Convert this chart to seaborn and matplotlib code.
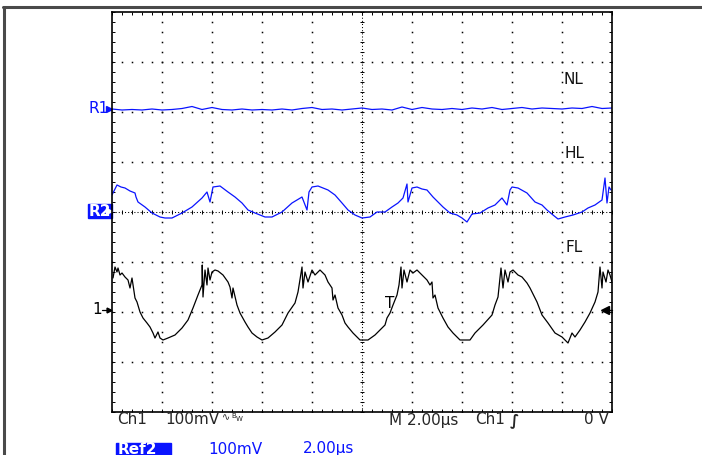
import numpy as np
import pandas as pd
import seaborn as sns
import matplotlib.pyplot as plt
from matplotlib.lines import Line2D
from matplotlib.patches import Rectangle
import matplotlib.transforms as mtransforms

# Scope settings: 2.00 us/div, 100 mV/div, 10 x 8 divisions
TIME_PER_DIV = 2.0
MV_PER_DIV = 100.0

# NL (Ref1) - flat trace
nl_t = [0.0, 0.4, 0.8, 1.2, 1.6, 2.0, 2.4, 2.8, 3.2, 3.6, 4.0, 4.4, 4.8, 5.2, 5.6,
        6.0, 6.4, 6.8, 7.2, 7.6, 8.0, 8.4, 8.8, 9.2, 9.6, 10.0, 10.4, 10.8, 11.2,
        11.6, 12.0, 12.4, 12.8, 13.2, 13.6, 14.0, 14.4, 14.8, 15.2, 15.6, 16.0,
        16.4, 16.8, 17.2, 17.6, 18.0, 18.4, 18.8, 19.2, 19.6, 20.0]
nl_v = [206, 204, 205, 204, 206, 204, 205, 207, 211, 205, 209, 205, 204, 206, 204,
        205, 204, 206, 204, 207, 209, 205, 206, 204, 206, 208, 205, 206, 204,
        210, 205, 209, 206, 205, 207, 205, 208, 206, 209, 205, 207,
        209, 206, 208, 207, 206, 208, 207, 211, 207, 208]

# HL (Ref2) - blue ripple
hl_t = [0.00, 0.20, 0.36, 0.52, 0.72, 0.92, 0.96, 1.04, 1.32, 1.60, 1.92, 2.12, 2.40,
        2.80, 3.20, 3.60, 3.80, 3.92, 4.04, 4.32, 4.64, 4.92, 5.20, 5.44, 5.72, 6.12,
        6.40, 6.80, 7.20, 7.60, 7.80, 7.88, 8.00, 8.24, 8.64, 8.92, 9.20, 9.44, 9.72,
        10.00, 10.32, 10.60, 10.92, 11.20, 11.44, 11.64, 11.80, 11.84, 12.00, 12.20,
        12.40, 12.60, 12.84, 13.04, 13.24, 13.52, 13.80, 14.00, 14.20, 14.40, 14.72,
        15.04, 15.32, 15.60, 15.80, 15.92, 16.00, 16.24, 16.60, 16.92, 17.20, 17.40,
        17.64, 17.84, 18.12, 18.44, 18.80, 19.04, 19.32, 19.60, 19.72, 19.80, 19.88, 19.96]
hl_v = [34, 54, 50, 48, 42, 38, 30, 20, 10, -2, -10, -12, -12,
        -2, 10, 28, 40, 20, 50, 52, 40, 30, 18, 4, -2, -10,
        -10, 0, 18, 30, 4, 40, 50, 52, 44, 34, 18, 4, -6,
        -12, -10, 0, 0, 10, 18, 28, 56, 20, 48, 50,
        46, 44, 30, 20, 10, -2, -6, -12, -20, -4, -2,
        8, 14, 28, 14, 44, 50, 48, 38, 20, 14, 4,
        -6, -14, -10, -6, 0, 8, 14, 24, 68, 18, 50, 44]

# FL (Ch1) - black ripple
fl_t = [0.04, 0.12, 0.20, 0.24, 0.32, 0.40, 0.52, 0.64, 0.72, 0.80, 0.92, 1.00, 1.12,
        1.24, 1.40, 1.52, 1.64, 1.72, 1.84, 1.92, 2.04, 2.24, 2.52, 2.80, 3.04, 3.24,
        3.44, 3.60, 3.61, 3.64, 3.72, 3.80, 3.84, 3.92, 4.00, 4.12, 4.24, 4.44, 4.64,
        4.72, 4.80, 4.84, 5.00, 5.12, 5.32, 5.44, 5.60, 5.80, 6.00, 6.24, 6.52, 6.80,
        7.04, 7.32, 7.44, 7.60, 7.64, 7.72, 7.84, 8.00, 8.12, 8.32, 8.52, 8.64, 8.80,
        8.84, 8.92, 9.04, 9.20, 9.32, 9.44, 9.64, 9.84, 9.92, 10.24, 10.52, 10.80,
        10.92, 11.00, 11.12, 11.24, 11.40, 11.48, 11.56, 11.60, 11.68, 11.80, 11.92,
        12.04, 12.20, 12.40, 12.60, 12.72, 12.80, 12.84, 12.92, 13.04, 13.24, 13.44,
        13.64, 13.92, 14.32, 14.52, 14.84, 15.20, 15.32, 15.44, 15.56, 15.64, 15.72,
        15.84, 15.92, 16.04, 16.24, 16.40, 16.60, 16.72, 17.00, 17.20, 17.44, 17.72,
        18.00, 18.24, 18.40, 18.52, 18.72, 18.92, 19.12, 19.32, 19.44, 19.52, 19.60,
        19.64, 19.76, 19.84, 19.92, 20.00]
fl_v = [-132, -110, -120, -112, -126, -122, -130, -136, -152, -132, -172, -180, -200,
        -212, -222, -230, -242, -252, -240, -252, -256, -252, -246, -232, -216, -192,
        -166, -146, -106, -170, -116, -146, -112, -136, -120, -116, -118, -126, -140,
        -150, -172, -152, -186, -202, -220, -230, -242, -250, -256, -252, -240, -226,
        -202, -182, -160, -110, -152, -120, -140, -116, -126, -116, -126, -140, -152,
        -176, -166, -192, -206, -222, -230, -242, -252, -256, -256, -246, -232,
        -226, -212, -202, -186, -166, -146, -110, -152, -116, -140, -116,
        -122, -116, -126, -136, -146, -140, -172, -166, -192, -212, -230,
        -242, -256, -256, -242, -226, -206, -186, -170, -112, -152, -116,
        -140, -120, -116, -126, -130, -142, -152, -180, -206, -222, -242,
        -250, -262, -242, -250, -236, -220, -202, -180, -160, -110, -152,
        -120, -140, -116, -126, -140]

# marker / label levels (mV on screen)
ref1_level = 207
ref2_level = 2
ch1_level = -196
trig_level = -196

BLUE = "#0a14ff"
W, H = 702, 455
FS = 11

sns.set_style("white")
plt.rcParams["font.family"] = ["DejaVu Sans"]

fig = plt.figure(figsize=(W / 100, H / 100), dpi=100)
ax = fig.add_axes([112 / W, 43 / H, 500 / W, 400 / H])
ax.set_xlim(0, 10 * TIME_PER_DIV)
ax.set_ylim(-4 * MV_PER_DIV, 4 * MV_PER_DIV)

# graticule: dotted division lines
minor_x = np.arange(0, 20.001, TIME_PER_DIV / 5)
minor_y = np.arange(-400, 400.001, MV_PER_DIV / 5)
for gx in np.arange(2, 19, 2):
    if gx == 10:
        continue
    ax.plot(np.full(len(minor_y), gx), minor_y, ls="none", marker="s", ms=1.1,
            mew=0, color="black")
for gy in np.arange(-300, 301, 100):
    if gy == 0:
        continue
    ax.plot(minor_x, np.full(len(minor_x), gy), ls="none", marker="s", ms=1.1,
            mew=0, color="black")
# centre cross-hair
ax.axhline(0, color="black", lw=0.75, ls=(0, (1, 2)))
ax.axvline(10, color="black", lw=0.75, ls=(0, (1, 2)))
ax.plot(minor_x, np.zeros(len(minor_x)), ls="none", marker="|", ms=3, mew=0.7, color="black")
ax.plot(np.full(len(minor_y), 10), minor_y, ls="none", marker="_", ms=3, mew=0.7, color="black")

# border ticks
ax.set_xticks(np.arange(0, 20.001, 2))
ax.set_xticks(minor_x, minor=True)
ax.set_yticks(np.arange(-400, 401, 100))
ax.set_yticks(minor_y, minor=True)
ax.tick_params(which="both", direction="in", length=2.5, width=0.7, top=True, right=True,
               bottom=True, left=True, labelbottom=False, labelleft=False, color="black")
for sp in ax.spines.values():
    sp.set_color("black")
    sp.set_linewidth(1.2)

# traces
sns.lineplot(x=nl_t, y=nl_v, ax=ax, color=BLUE, lw=0.9, estimator=None, sort=False)
sns.lineplot(x=hl_t, y=hl_v, ax=ax, color=BLUE, lw=0.9, estimator=None, sort=False)
sns.lineplot(x=fl_t, y=fl_v, ax=ax, color="black", lw=0.9, estimator=None, sort=False)

# trace labels
ax.text(18.44, 264, "NL", fontsize=FS, ha="center", va="center", color="#111111")
ax.text(18.48, 118, "HL", fontsize=FS, ha="center", va="center", color="#111111")
ax.text(18.48, -70, "FL", fontsize=FS, ha="center", va="center", color="#111111")

# trigger position marker T
ax.text(11.1, -182, "T", fontsize=FS, ha="center", va="center", color="black")

# left markers (x in axes fraction, y in data)
blend = mtransforms.blended_transform_factory(ax.transAxes, ax.transData)
ax.text(-0.046, ref1_level, "R1", transform=blend, fontsize=FS, color=BLUE,
        ha="left", va="center")
ax.plot([-0.007], [ref1_level], marker=">", ms=4, color=BLUE, transform=blend, clip_on=False)
ax.add_patch(Rectangle((-0.048, ref2_level - 14), 0.048, 28, transform=blend,
                       color=BLUE, clip_on=False))
ax.text(-0.046, ref2_level, "R2", transform=blend, fontsize=FS, color="white",
        ha="left", va="center", fontweight="bold")
ax.plot([-0.007], [ref2_level], marker=">", ms=4, color="white", transform=blend, clip_on=False)
ax.text(-0.04, ch1_level, "1", transform=blend, fontsize=FS, color="black",
        ha="left", va="center")
ax.plot([-0.02, -0.004], [ch1_level, ch1_level], color="black", lw=0.9,
        transform=blend, clip_on=False)
ax.plot([-0.006], [ch1_level], marker=">", ms=3.5, color="black", transform=blend, clip_on=False)

# trigger level arrow on the right
ax.plot([19.72, 20.0], [trig_level, trig_level], color="black", lw=1.0, clip_on=False)
ax.plot([19.72], [trig_level], marker="<", ms=6, color="black", clip_on=False)

# status lines under the graticule
def px(x, y):
    return x / W, 1 - y / H

fig.text(*px(117, 420), "Ch1", fontsize=FS, va="center", ha="left")
fig.text(*px(165, 420), "100mV", fontsize=FS, va="center", ha="left")
fig.text(*px(222, 417), "\u223f", fontsize=7, va="center", ha="left")
fig.text(*px(231, 416), "B", fontsize=5, va="center", ha="left")
fig.text(*px(236, 419), "W", fontsize=5, va="center", ha="left")
fig.text(*px(389, 420), "M 2.00\u00b5s", fontsize=FS, va="center", ha="left")
fig.text(*px(475, 420), "Ch1", fontsize=FS, va="center", ha="left")
fig.text(*px(510, 420), "\u222b", fontsize=FS, va="center", ha="left", fontweight="bold")
fig.text(*px(584, 420), "0 V", fontsize=FS, va="center", ha="left")

fig.patches.append(Rectangle(px(116, 455), 55 / W, 12 / H, transform=fig.transFigure,
                             color=BLUE, zorder=1))
fig.text(*px(118, 449), "Ref2", fontsize=FS, va="center", ha="left", color="white",
         fontweight="bold")
fig.text(*px(208, 449), "100mV", fontsize=FS, va="center", ha="left", color=BLUE)
fig.text(*px(303, 449), "2.00\u00b5s", fontsize=FS, va="center", ha="left", color=BLUE)

# window frame
fig.add_artist(Line2D([3 / W, 1], [1 - 7 / H, 1 - 7 / H], color="#4a4a4a", lw=2.2))
fig.add_artist(Line2D([4 / W, 4 / W], [0, 1 - 7 / H], color="#4a4a4a", lw=2.2))

fig.savefig("out.png", dpi=100)
